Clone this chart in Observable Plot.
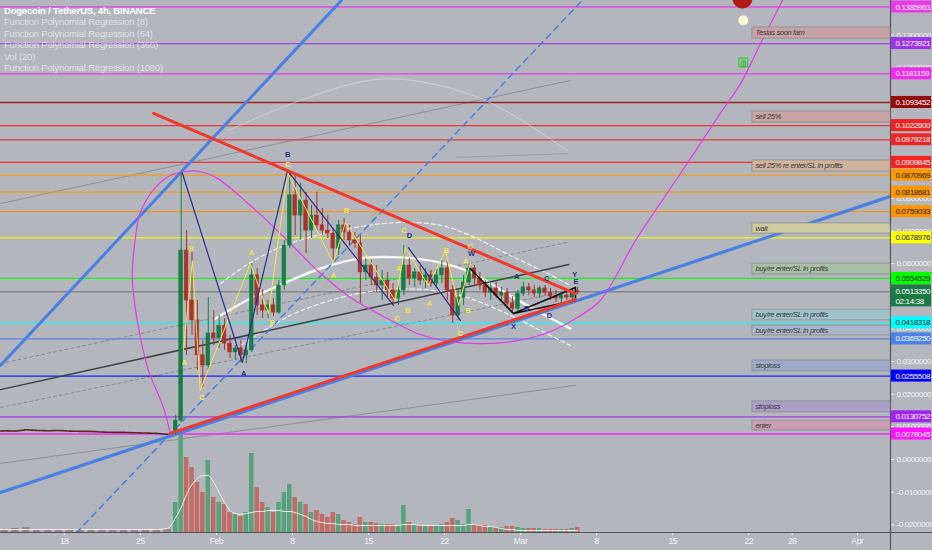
<!DOCTYPE html>
<html>
<head>
<meta charset="utf-8">
<script src="https://cdn.jsdelivr.net/npm/d3@7"></script>
<script src="https://cdn.jsdelivr.net/npm/@observablehq/plot@0.6"></script>
<style>
  body { margin: 0; background: #b3b6bd; }
  #wrap { position: relative; width: 932px; height: 550px; overflow: hidden; background: #b3b6bd;
          font-family: "Liberation Sans", sans-serif; }
  #wrap svg { position: absolute; left: 0; top: 0; }
  #legend { position: absolute; left: 4px; top: 5px; font-size: 9.5px; line-height: 11.4px; color: rgba(255,255,255,0.62); letter-spacing: -0.2px; }
  #legend div:first-child { color: #fff; font-weight: bold; }
</style>
</head>
<body>
<div id="wrap"><div id="vol"></div><div id="price"></div><div id="legend"></div></div>
<script>
// legend top left
const legendLines = ["Dogecoin / TetherUS, 4h, BINANCE", "Function Polynomial Regression (8)", "Function Polynomial Regression (64)",
  "Function Polynomial Regression (360)", "Vol (20)", "Function Polynomial Regression (1080)"]

// 12h candles
const candleTime = ["2021-01-28 00","2021-01-28 12","2021-01-29 00","2021-01-29 12","2021-01-30 00","2021-01-30 12","2021-01-31 00","2021-01-31 12",
  "2021-02-01 00","2021-02-01 12","2021-02-02 00","2021-02-02 12","2021-02-03 00","2021-02-03 12","2021-02-04 00","2021-02-04 12",
  "2021-02-05 00","2021-02-05 12","2021-02-06 00","2021-02-06 12","2021-02-07 00","2021-02-07 12","2021-02-08 00","2021-02-08 12",
  "2021-02-09 00","2021-02-09 12","2021-02-10 00","2021-02-10 12","2021-02-11 00","2021-02-11 12","2021-02-12 00","2021-02-12 12",
  "2021-02-13 00","2021-02-13 12","2021-02-14 00","2021-02-14 12","2021-02-15 00","2021-02-15 12","2021-02-16 00","2021-02-16 12",
  "2021-02-17 00","2021-02-17 12","2021-02-18 00","2021-02-18 12","2021-02-19 00","2021-02-19 12","2021-02-20 00","2021-02-20 12",
  "2021-02-21 00","2021-02-21 12","2021-02-22 00","2021-02-22 12","2021-02-23 00","2021-02-23 12","2021-02-24 00","2021-02-24 12",
  "2021-02-25 00","2021-02-25 12","2021-02-26 00","2021-02-26 12","2021-02-27 00","2021-02-27 12","2021-02-28 00","2021-02-28 12",
  "2021-03-01 00","2021-03-01 12","2021-03-02 00","2021-03-02 12","2021-03-03 00","2021-03-03 12","2021-03-04 00","2021-03-04 12",
  "2021-03-05 00","2021-03-05 12","2021-03-06 00"]
const open = [0.0080,0.0119,0.0640,0.0487,0.0426,0.0319,0.0288,0.0386,0.0371,0.0410,0.0355,0.0328,0.0340,0.0319,0.0334,0.0564,
  0.0472,0.0456,0.0472,0.0450,0.0533,0.0655,0.0809,0.0747,0.0793,0.0701,0.0747,0.0717,0.0701,0.0692,0.0646,0.0717,
  0.0695,0.0671,0.0662,0.0573,0.0594,0.0557,0.0533,0.0548,0.0518,0.0493,0.0518,0.0594,0.0554,0.0573,0.0548,0.0564,
  0.0539,0.0564,0.0585,0.0518,0.0441,0.0496,0.0542,0.0585,0.0554,0.0533,0.0511,0.0524,0.0502,0.0511,0.0478,0.0462,
  0.0508,0.0527,0.0518,0.0508,0.0524,0.0511,0.0499,0.0493,0.0502,0.0496,0.0515]
const high = [0.0135,0.0879,0.0701,0.0634,0.0487,0.0364,0.0496,0.0456,0.0441,0.0432,0.0380,0.0349,0.0364,0.0349,0.0600,0.0585,
  0.0518,0.0487,0.0493,0.0548,0.0671,0.0885,0.0870,0.0845,0.0818,0.0778,0.0818,0.0769,0.0747,0.0708,0.0732,0.0738,
  0.0717,0.0695,0.0686,0.0616,0.0609,0.0594,0.0579,0.0573,0.0539,0.0533,0.0655,0.0616,0.0585,0.0591,0.0585,0.0579,
  0.0585,0.0609,0.0603,0.0533,0.0518,0.0564,0.0600,0.0594,0.0573,0.0548,0.0539,0.0542,0.0527,0.0524,0.0499,0.0518,
  0.0542,0.0539,0.0533,0.0530,0.0533,0.0524,0.0518,0.0511,0.0518,0.0521,0.0527]
const low = [0.0074,0.0113,0.0319,0.0380,0.0273,0.0221,0.0273,0.0349,0.0340,0.0334,0.0309,0.0303,0.0297,0.0294,0.0328,0.0441,
  0.0432,0.0432,0.0438,0.0444,0.0518,0.0646,0.0686,0.0671,0.0631,0.0677,0.0701,0.0686,0.0677,0.0609,0.0625,0.0671,
  0.0655,0.0646,0.0478,0.0548,0.0533,0.0511,0.0487,0.0493,0.0472,0.0472,0.0502,0.0533,0.0527,0.0533,0.0524,0.0527,
  0.0524,0.0539,0.0487,0.0417,0.0426,0.0472,0.0533,0.0533,0.0518,0.0496,0.0487,0.0493,0.0487,0.0462,0.0447,0.0450,
  0.0499,0.0502,0.0496,0.0493,0.0499,0.0487,0.0481,0.0478,0.0487,0.0487,0.0505]
const close = [0.0119,0.0640,0.0487,0.0426,0.0319,0.0288,0.0386,0.0371,0.0410,0.0355,0.0328,0.0340,0.0319,0.0334,0.0564,0.0472,
  0.0456,0.0472,0.0450,0.0533,0.0655,0.0809,0.0747,0.0793,0.0701,0.0747,0.0717,0.0701,0.0692,0.0646,0.0717,0.0695,
  0.0671,0.0662,0.0573,0.0594,0.0557,0.0533,0.0548,0.0518,0.0493,0.0518,0.0594,0.0554,0.0573,0.0548,0.0564,0.0539,
  0.0564,0.0585,0.0518,0.0441,0.0496,0.0542,0.0585,0.0554,0.0533,0.0511,0.0524,0.0502,0.0511,0.0478,0.0462,0.0508,
  0.0527,0.0518,0.0508,0.0524,0.0511,0.0499,0.0493,0.0502,0.0496,0.0515,0.0513]
// volume, billions of DOGE per bar (approx.)
const volume = [3.0,9.7,7.5,6.5,5.0,4.0,7.2,3.5,3.0,2.8,2.0,1.8,1.6,2.0,7.9,4.5,
  3.0,2.5,2.0,3.0,4.0,4.8,3.5,3.0,2.8,2.0,2.2,1.8,1.5,2.0,1.8,1.2,
  1.0,0.8,1.5,1.0,1.0,0.9,0.8,0.8,0.8,0.7,2.7,1.0,0.8,0.7,0.6,0.6,
  0.6,0.8,1.0,1.4,1.2,0.8,2.3,0.8,0.7,0.7,0.6,0.5,0.5,0.6,0.6,0.5,
  0.4,0.4,0.4,0.4,0.3,0.3,0.3,0.3,0.3,0.4,0.5]
const volMA = [1.5,2.5,3.8,4.8,5.4,5.7,5.7,5.0,4.0,3.0,2.2,1.9,1.8,1.9,2.0,2.1,
  2.1,2.2,2.2,2.2,2.1,2.1,2.0,1.8,1.6,1.3,1.1,1.0,0.9,0.9,0.8,0.8,
  0.8,0.7,0.7,0.7,0.7,0.7,0.7,0.7,0.7,0.7,0.8,0.8,0.8,0.7,0.7,0.7,
  0.7,0.7,0.7,0.7,0.7,0.7,0.8,0.8,0.7,0.6,0.6,0.5,0.4,0.3,0.3,0.2,
  0.2,0.2,0.2,0.2,0.2,0.2,0.2,0.2,0.2,0.2,0.2]

// quiet days before the pump
const preTime = ["2021-01-11 12","2021-01-12 12","2021-01-13 12","2021-01-14 12","2021-01-15 12","2021-01-16 12","2021-01-17 12","2021-01-18 12",
  "2021-01-19 12","2021-01-20 12","2021-01-21 12","2021-01-22 12","2021-01-23 12","2021-01-24 12","2021-01-25 12","2021-01-26 12","2021-01-27 12"]
const preClose = [0.0086,0.0088,0.0087,0.0091,0.0089,0.0088,0.0089,0.0087,0.0086,0.0086,0.0084,0.0083,0.0083,0.0082,0.0081,0.0080,0.0077]
const preVol = [0.3,0.3,0.4,0.5,0.3,0.3,0.3,0.3,0.3,0.2,0.3,0.2,0.2,0.2,0.2,0.2,0.3]
const preVolMA = [0.3,0.3,0.3,0.3,0.3,0.3,0.3,0.3,0.3,0.3,0.3,0.3,0.3,0.3,0.3,0.3,0.4]

// horizontal levels and their price tags
const levelValue = [0.1385963,0.1273921,0.1181159,0.1093452,0.1022600,0.0979218,0.0909845,0.0870969,0.0818681,0.0759033,
  0.0678976,0.0554529,0.0418318,0.0369250,0.0255508,0.0130752,0.0078045]
const levelColor = ["#e83ae8","#9a34e8","#ee2aee","#920a0a","#f22020","#ef2424","#f52020","#ff9800","#ff9800","#ff9300",
  "#ffff00","#00ff00","#00ffff","#4c82e6","#0000ff","#a024f0","#ff10ff"]
const levelInk = ["#fff","#fff","#fff","#fff","#fff","#fff","#fff","#222","#222","#222","#222","#222","#222","#fff","#fff","#fff","#fff"]
const lastPrice = 0.051335
const lastTimer = "02:14:38"

// text notes on the right
const noteText = ["Teslas soon fam","sell 25%","sell 25% re enter/SL in profits","wait","buy/re enter/SL in profits",
  "buy/re enter/SL in profits","buy/re enter/SL in profits","stoploss","stoploss","enter"]
const noteTop = [0.1323,0.1066,0.0916,0.0723,0.0600,0.0459,0.0410,0.0303,0.0178,0.0119]
const noteBottom = [0.1289,0.1032,0.0882,0.0692,0.0567,0.0426,0.0380,0.0270,0.0144,0.0089]
const noteFill = ["#c7a2a6","#c9a3a6","#cfb39c","#cfcca2","#a9c0a8","#9ec3cb","#a9b6cb","#9eabc8","#ab9fc8","#cc9db2"]
const noteStart = "2021-03-22 08"

// drawn lines [time, price]
const blueLow = [["2021-01-12 03",-0.0101],["2021-04-04 01",0.0806]]
const blueUp = [["2021-01-12 03",0.0288],["2021-02-12 12",0.1406]]
const blueDash = [["2021-01-19 03",-0.0224],["2021-03-06 16",0.1406]]
const redUp = [["2021-01-26 05",0.1060],["2021-03-06 01",0.0508]]
const redLow = [["2021-01-27 18",0.0080],["2021-03-06 01",0.0490]]
const blackLine = [["2021-01-12 03",0.0214],["2021-03-05 10",0.0597]]
const grayLine1 = [["2021-01-12 03",0.0784],["2021-03-05 14",0.1161]]
const grayLine2 = [["2021-01-12 03",-0.0012],["2021-03-06 01",0.0227]]
const grayShort = [["2021-02-23 02",0.0925],["2021-03-05 07",0.0937]]
const grayDash1 = [["2021-01-12 03",0.0294],["2021-03-05 07",0.0665]]
const grayDash2 = [["2021-01-12 03",0.0159],["2021-03-05 14",0.0518]]
const magentaCurve = [["2021-01-27 18",0.0080],["2021-01-27 03",0.0159],["2021-01-25 18",0.0273],["2021-01-24 17",0.0426],
  ["2021-01-24 06",0.0557],["2021-01-24 11",0.0655],["2021-01-25 00",0.0757],["2021-01-26 09",0.0833],["2021-01-27 18",0.0870],
  ["2021-01-29 03",0.0882],["2021-01-30 12",0.0882],["2021-02-01 02",0.0861],["2021-02-04 03",0.0778],["2021-02-07 04",0.0683],
  ["2021-02-10 07",0.0579],["2021-02-13 08",0.0496],["2021-02-16 09",0.0438],["2021-02-19 12",0.0386],["2021-02-22 13",0.0361],
  ["2021-02-25 14",0.0355],["2021-02-28 17",0.0364],["2021-03-03 18",0.0392],["2021-03-06 05",0.0435],["2021-03-08 08",0.0487],
  ["2021-03-11 14",0.0671],["2021-03-15 17",0.0876],["2021-03-19 09",0.1060],["2021-03-21 06",0.1152],["2021-03-23 02",0.1274],
  ["2021-03-25 02",0.1406],["2021-03-26 00",0.1467]]
const whiteCurve = [["2021-01-31 22",0.0432],["2021-02-04 03",0.0493],["2021-02-07 04",0.0539],["2021-02-10 14",0.0585],
  ["2021-02-14 06",0.0616],["2021-02-17 22",0.0619],["2021-02-21 15",0.0603],["2021-02-24 09",0.0573],["2021-02-28 01",0.0502],
  ["2021-03-03 07",0.0441],["2021-03-05 14",0.0401]]
const whiteUpper = [["2021-02-01 09",0.0539],["2021-02-04 03",0.0603],["2021-02-07 19",0.0662],["2021-02-13 08",0.0708],
  ["2021-02-17 22",0.0726],["2021-02-21 15",0.0717],["2021-02-24 09",0.0686],["2021-02-28 01",0.0625],["2021-03-03 07",0.0573],
  ["2021-03-05 14",0.0533]]
const whiteLower = [["2021-02-03 05",0.0349],["2021-02-07 19",0.0441],["2021-02-12 10",0.0496],["2021-02-16 02",0.0518],
  ["2021-02-19 18",0.0521],["2021-02-23 11",0.0502],["2021-02-27 03",0.0456],["2021-03-02 20",0.0395],["2021-03-05 14",0.0349]]
const faintArc = [["2021-02-02 02",0.1008],["2021-02-08 18",0.1100],["2021-02-15 00",0.1161],["2021-02-19 01",0.1161],
  ["2021-02-25 18",0.1100],["2021-03-05 07",0.0946]]
const navyWave1 = [["2021-01-28 21",0.0876],["2021-02-03 09",0.0297],["2021-02-07 13",0.0885],["2021-02-17 07",0.0472]]
const navyWave2 = [["2021-02-18 16",0.0649],["2021-02-23 11",0.0426]]
const yellowWave = [["2021-01-28 23",0.0334],["2021-01-29 19",0.0609],["2021-01-30 12",0.0211],["2021-02-04 03",0.0600],
  ["2021-02-05 19",0.0447],["2021-02-07 13",0.0879],["2021-02-11 18",0.0603],["2021-02-12 21",0.0726],["2021-02-17 11",0.0487],
  ["2021-02-18 09",0.0649],["2021-02-20 12",0.0533],["2021-02-22 02",0.0640],["2021-02-23 07",0.0472],["2021-02-24 09",0.0603]]
const blackWave = [["2021-02-24 09",0.0585],["2021-02-28 08",0.0447],["2021-03-06 01",0.0527],["2021-03-06 01",0.0487],["2021-02-28 08",0.0447]]

// pattern letters [time, price, letter, colour]
const letters = [["2021-01-29 16",0.0645,"B","#f3e64a"],["2021-01-29 01",0.0297,"A","#f3e64a"],["2021-01-30 15",0.0190,"C","#f3e64a"],
  ["2021-02-04 05",0.0633,"A","#f3e64a"],["2021-02-06 03",0.0420,"B","#f3e64a"],["2021-02-07 13",0.0902,"C","#f3e64a"],
  ["2021-02-07 13",0.0935,"B","#2b2f8f"],["2021-02-03 12",0.0263,"A","#2b2f8f"],["2021-02-12 23",0.0763,"B","#f3e64a"],
  ["2021-02-11 18",0.0564,"A","#f3e64a"],["2021-02-17 15",0.0432,"C","#f3e64a"],["2021-02-18 14",0.0456,"B","#f3e64a"],
  ["2021-02-17 18",0.0585,"A","#f3e64a"],["2021-02-18 06",0.0700,"C","#f3e64a"],["2021-02-18 18",0.0686,"D","#2b2f8f"],
  ["2021-02-20 14",0.0478,"A","#f3e64a"],["2021-02-22 03",0.0640,"B","#f3e64a"],["2021-02-23 22",0.0606,"A","#f3e64a"],
  ["2021-02-24 09",0.0652,"C","#f3e64a"],["2021-02-24 11",0.0630,"W","#2b2f8f"],["2021-02-24 04",0.0456,"B","#f3e64a"],
  ["2021-02-23 10",0.0386,"C","#f3e64a"],["2021-02-28 08",0.0408,"X","#2b2f8f"],["2021-03-01 13",0.0462,"B","#2b2f8f"],
  ["2021-03-03 15",0.0441,"D","#2b2f8f"],["2021-02-28 15",0.0560,"A","#2b2f8f"],["2021-03-03 09",0.0554,"C","#2b2f8f"],
  ["2021-03-05 23",0.0566,"Y","#2b2f8f"],["2021-03-06 02",0.0546,"E","#2b2f8f"]]

// icons near the top right [time, price]
const iconRed = ["2021-03-21 10",0.1412]
const iconPale = ["2021-03-21 12",0.1345]
const iconGreen = ["2021-03-21 12",0.1216]

// axes (price ticks hidden behind tags are left out)
const xTickTime = ["2021-01-18 00","2021-01-25 00","2021-02-01 00","2021-02-08 00","2021-02-15 00","2021-02-22 00",
  "2021-03-01 00","2021-03-08 00","2021-03-15 00","2021-03-22 00","2021-03-26 00","2021-04-01 00"]
const xTickLabel = ["18","25","Feb","8","15","22","Mar","8","15","22","26","Apr"]
const yTicks = [-0.02,-0.01,0,0.01,0.02,0.03,0.04,0.06,0.07,0.08,0.12,0.13]
const xDomain = ["2021-01-12 03","2021-04-04 01"]
const yDomain = [-0.02236,0.14058]

const T = d3.utcParse("%Y-%m-%d %H")
const pts = a => a.map(([t, v]) => ({t: T(t), v}))
const xEnd = T(xDomain[1])
const up = "#167d44", down = "#ab322d"
const fmt = v => d3.format(".7f")(v).replace("−", "-")

const candles = candleTime.map((t, i) => ({t: T(t), o: open[i], h: high[i], l: low[i], c: close[i], vol: volume[i], ma: volMA[i]}))
const pre = preTime.map((t, i) => ({t: T(t), c: preClose[i], vol: preVol[i], ma: preVolMA[i]}))
const levels = levelValue.map((v, i) => ({v, color: levelColor[i], ink: levelInk[i]}))
const notes = noteText.map((text, i) => ({text, y1: noteTop[i], y2: noteBottom[i], fill: noteFill[i]}))
const tickLabel = new Map(xTickTime.map((t, i) => [+T(t), xTickLabel[i]]))
const mid = d => d3.utcHour.offset(d.t, 6)

const frame = {
  width: 932, height: 550, marginTop: 0, marginBottom: 18, marginLeft: 0, marginRight: 42,
  style: {background: "transparent", fontFamily: "'Liberation Sans',sans-serif", fontSize: "8px", letterSpacing: "-0.35px", color: "#f4f4f4"}
}

// volume pane, its own y scale
const volChart = Plot.plot({
  ...frame,
  x: {type: "utc", domain: xDomain.map(T), axis: null},
  y: {domain: [0, 10], range: [532, 432], axis: null},
  marks: [
    Plot.rect(pre, {x1: d => d3.utcHour.offset(d.t, -8), x2: d => d3.utcHour.offset(d.t, 8), y1: 0, y2: "vol", fill: "#8a5e5e", fillOpacity: 0.6, clip: true}),
    Plot.rect(candles, {x1: d => d3.utcHour.offset(d.t, 1), x2: d => d3.utcHour.offset(d.t, 11), y1: 0, y2: "vol",
      fill: d => d.c >= d.o ? "#3f9f6a" : "#c65a52", fillOpacity: 0.8}),
    Plot.line([...pre.map(d => ({t: d.t, ma: d.ma})), ...candles.map(d => ({t: mid(d), ma: d.ma}))],
      {x: "t", y: "ma", stroke: "#eeeeee", strokeWidth: 1, curve: "monotone-x", clip: true})
  ]
})
d3.select('#vol').append(() => volChart)

const seg = (a, o) => Plot.line(pts(a), {x: "t", y: "v", clip: true, ...o})

const chart = Plot.plot({
  ...frame,
  x: {type: "utc", domain: xDomain.map(T)},
  y: {domain: yDomain},
  marks: [
    Plot.axisY(yTicks, {anchor: "right", label: null, tickSize: 3, tickPadding: 3, tickFormat: fmt}),
    Plot.axisX(xTickTime.map(T), {label: null, tickSize: 3, tickPadding: 2, fontSize: 8.5, tickFormat: d => tickLabel.get(+d)}),
    Plot.ruleY([yDomain[0]], {stroke: "#4d4f55", strokeWidth: 1.2, insetRight: -42}),
    Plot.ruleX([xEnd], {stroke: "#55575d", strokeWidth: 1.2, insetBottom: -18}),
    // faint regression lines
    seg(grayLine1, {stroke: "#8d9097", strokeWidth: 1}),
    seg(grayLine2, {stroke: "#8d9097", strokeWidth: 1}),
    seg(grayShort, {stroke: "#9a9da4", strokeWidth: 1}),
    seg(grayDash1, {stroke: "#85888f", strokeWidth: 1, strokeDasharray: "3,3"}),
    seg(grayDash2, {stroke: "#85888f", strokeWidth: 1, strokeDasharray: "3,3"}),
    Plot.ruleY([lastPrice], {stroke: "#6f7177", strokeWidth: 1}),
    // horizontal levels
    Plot.ruleY(levels, {y: "v", stroke: "color", strokeWidth: 1.3, strokeOpacity: 0.85}),
    seg(faintArc, {stroke: "#e6e6e6", strokeOpacity: 0.55, strokeWidth: 1, curve: "catmull-rom"}),
    seg(whiteUpper, {stroke: "#f0f0f0", strokeWidth: 1.2, strokeDasharray: "4,3", curve: "catmull-rom"}),
    seg(whiteLower, {stroke: "#f0f0f0", strokeWidth: 1.2, strokeDasharray: "4,3", curve: "catmull-rom"}),
    seg(whiteCurve, {stroke: "#f6f6f6", strokeWidth: 2.4, curve: "catmull-rom"}),
    seg(blackLine, {stroke: "#3e3f44", strokeWidth: 1.5}),
    seg(blueDash, {stroke: "#4a7fe3", strokeWidth: 1.5, strokeDasharray: "6,5"}),
    seg(blueUp, {stroke: "#4a7fe3", strokeWidth: 3}),
    seg(blueLow, {stroke: "#4a7fe3", strokeWidth: 3.2}),
    seg(magentaCurve, {stroke: "#e23ee2", strokeWidth: 1.2, curve: "catmull-rom"}),
    // price
    Plot.line(pre, {x: "t", y: "c", stroke: "#5a2626", strokeWidth: 1.6, strokeDasharray: "2,1", clip: true}),
    Plot.ruleX(candles, {x: mid, y1: "l", y2: "h", stroke: d => d.c >= d.o ? up : down, strokeWidth: 1}),
    Plot.rect(candles, {x1: d => d3.utcHour.offset(d.t, 2), x2: d => d3.utcHour.offset(d.t, 10), y1: "o", y2: "c",
      fill: d => d.c >= d.o ? up : down, stroke: d => d.c >= d.o ? up : down, strokeWidth: 0.6}),
    seg(yellowWave, {stroke: "#f3e64a", strokeWidth: 1}),
    seg(navyWave1, {stroke: "#2b2f8f", strokeWidth: 1.2}),
    seg(navyWave2, {stroke: "#2b2f8f", strokeWidth: 1.2}),
    seg(blackWave, {stroke: "#111", strokeWidth: 1.6}),
    seg(redUp, {stroke: "#f0382c", strokeWidth: 3}),
    seg(redLow, {stroke: "#f0382c", strokeWidth: 3}),
    // notes
    Plot.rect(notes, {x1: () => T(noteStart), x2: () => xEnd, y1: "y1", y2: "y2", fill: "fill", stroke: "#8c8c8c", strokeWidth: 0.8}),
    Plot.text(notes, {x: () => T(noteStart), y: d => (d.y1 + d.y2) / 2, text: "text", dx: 3, textAnchor: "start",
      fill: "#3a3a3a", fontStyle: "italic", fontSize: 7.5}),
    // icons
    Plot.dot([iconRed], {x: d => T(d[0]), y: d => d[1], r: 10, fill: "#b11a14"}),
    Plot.dot([iconPale], {x: d => T(d[0]), y: d => d[1], r: 5, fill: "#fbf6d6"}),
    Plot.dot([iconGreen], {x: d => T(d[0]), y: d => d[1], r: 5, symbol: "square", fill: "#7fd07f", fillOpacity: 0.5, stroke: "#26d026", strokeWidth: 1}),
    Plot.text([iconGreen], {x: d => T(d[0]), y: d => d[1], text: () => "(|)", fill: "#1b9e1b", fontSize: 7}),
    // letters
    Plot.text(letters, {x: d => T(d[0]), y: d => d[1], text: d => d[2], fill: d => d[3], fontSize: 7.5, fontWeight: "bold"}),
    // price tags on the axis
    Plot.rect(levels, {x1: () => xEnd, x2: () => xEnd, y1: "v", y2: "v", insetLeft: 1, insetRight: -41, insetTop: -6, insetBottom: -6, fill: "color"}),
    Plot.text(levels, {x: () => xEnd, y: "v", text: d => fmt(d.v), dx: 5, textAnchor: "start", fill: "ink"}),
    Plot.rect([lastPrice], {x1: () => xEnd, x2: () => xEnd, y1: d => d, y2: d => d, insetLeft: 1, insetRight: -41, insetTop: -7, insetBottom: -15, fill: "#1d7a45"}),
    Plot.text([lastPrice], {x: () => xEnd, y: d => d, text: d => fmt(d), dx: 5, textAnchor: "start", fill: "#fff"}),
    Plot.text([lastPrice], {x: () => xEnd, y: d => d, text: () => lastTimer, dx: 5, dy: 10, textAnchor: "start", fill: "#fff"})
  ]
})
d3.select('#price').append(() => chart)

d3.select('#legend').selectAll('div').data(legendLines).join('div').text(d => d)
</script>
</body>
</html>
